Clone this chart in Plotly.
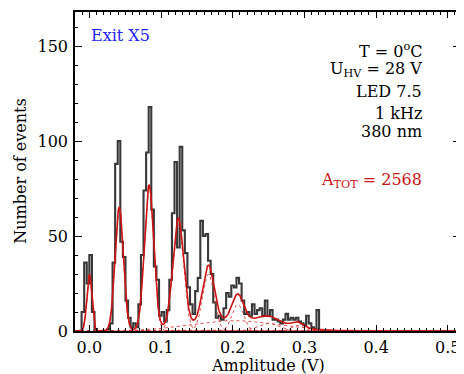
import numpy as np
import plotly.graph_objects as go

# ---- histogram data (counts per bin) ----
BIN_START = -0.0144
BIN_WIDTH = 0.0036
counts = [0, 10, 36, 25, 40, 10, 1, 0, 0, 0,
          0, 1, 4, 36, 88, 100, 47, 39, 16, 7,
          2, 4, 2, 14, 40, 74, 94, 118, 64, 34,
          27, 8, 10, 5, 11, 27, 62, 89, 44, 97,
          53, 41, 23, 14, 9, 21, 28, 58, 50, 51,
          37, 30, 15, 7, 8, 6, 12, 20, 18, 24,
          23, 28, 25, 16, 9, 10, 8, 14, 9, 11,
          12, 8, 16, 8, 11, 6, 6, 5, 4, 6,
          9, 6, 7, 6, 7, 5, 4, 3, 8, 4,
          2, 1, 11, 0]

# ---- fit components (multi-Gaussian fit) ----
peak_mu = [0.0000, 0.0417, 0.0833, 0.1240, 0.1660, 0.2070, 0.2500, 0.2900]
peak_sigma = [0.0035, 0.0058, 0.0065, 0.0075, 0.0080, 0.0080, 0.0150, 0.0080]
peak_amp = [30, 65, 76, 57, 30, 14, 4, 3]
bg_mu, bg_sigma, bg_amp = 0.20, 0.06, 5.5

x_ticks = [0.0, 0.1, 0.2, 0.3, 0.4, 0.5]
x_ticklabels = ["0.0", "0.1", "0.2", "0.3", "0.4", "0.5"]
y_ticks = [0, 50, 100, 150]

RED = "#cc1414"
FONT = "DejaVu Serif"

edges = BIN_START + BIN_WIDTH * np.arange(len(counts) + 1)
hx = list(edges) + [0.52]
hy = list(counts) + [counts[-1], 0]

v = np.linspace(-0.02, 0.52, 1621)
comps = [a * np.exp(-0.5 * ((v - m) / s) ** 2) for m, s, a in zip(peak_mu, peak_sigma, peak_amp)]
comps.append(bg_amp * np.exp(-0.5 * ((v - bg_mu) / bg_sigma) ** 2))
total = np.sum(comps, axis=0)

fig = go.Figure()
fig.add_trace(go.Scatter(x=hx, y=hy, mode="lines", line=dict(color="#383838", width=2.1, shape="hv"),
                         hoverinfo="skip"))
for c in comps:
    fig.add_trace(go.Scatter(x=v, y=c, mode="lines", line=dict(color="rgba(215,50,50,0.85)", width=1, dash="dot"),
                             hoverinfo="skip"))
fig.add_trace(go.Scatter(x=v, y=total, mode="lines", line=dict(color=RED, width=1.6), hoverinfo="skip"))

# page is offset by the 8px body margin; positions below are in window pixels
def ypx(py):
    return (331 - py) / 321.0

def xpx(px):
    return (px - 75) / 387.0

ann = []
ann.append(dict(text="Exit X5", x=xpx(89), y=ypx(34), xanchor="left", yanchor="middle",
                font=dict(color="#2424f0", size=16, family=FONT)))
right_lines = [("T = 0<sup>o</sup>C", 48.5), ("U<sub>HV</sub> = 28 V", 68), ("LED 7.5", 89.5),
               ("1 kHz", 112.5), ("380 nm", 130.5)]
for t, py in right_lines:
    ann.append(dict(text=t, x=xpx(426), y=ypx(py), xanchor="right", yanchor="middle",
                    font=dict(color="black", size=16, family=FONT)))
ann.append(dict(text="A<sub>TOT</sub> = 2568", x=xpx(426), y=ypx(180), xanchor="right", yanchor="middle",
                font=dict(color=RED, size=16, family=FONT)))
ann.append(dict(text="Amplitude (V)", x=xpx(268.5), y=ypx(366), xanchor="center", yanchor="middle",
                font=dict(color="black", size=16, family=FONT)))
ann.append(dict(text="Number of events", x=xpx(20), y=0.5, xanchor="center", yanchor="middle", textangle=-90,
                font=dict(color="black", size=16, family=FONT)))
for a in ann:
    a.update(xref="paper", yref="paper", showarrow=False)

fig.update_layout(
    width=456, height=366,
    margin=dict(l=67, r=2, t=2, b=43),
    plot_bgcolor="white", paper_bgcolor="white",
    showlegend=False,
    font=dict(family=FONT, size=16, color="black"),
    annotations=ann,
)
fig.update_xaxes(range=[-0.02, 0.517], tickvals=x_ticks, ticktext=x_ticklabels,
                 ticks="inside", ticklen=6, tickwidth=1, tickcolor="black",
                 showline=True, linewidth=1.5, linecolor="black", mirror="allticks",
                 showgrid=False, zeroline=False, ticklabelstandoff=1,
                 minor=dict(dtick=0.01, tick0=0, ticks="inside", ticklen=3, tickcolor="black", showgrid=False))
fig.update_yaxes(range=[0, 168], tickvals=y_ticks,
                 ticks="inside", ticklen=7, tickwidth=1, tickcolor="black",
                 showline=True, linewidth=1.5, linecolor="black", mirror="allticks",
                 showgrid=False, zeroline=False, ticklabelstandoff=2,
                 minor=dict(dtick=10, tick0=0, ticks="inside", ticklen=3, tickcolor="black", showgrid=False))

fig.write_html("out.html")
